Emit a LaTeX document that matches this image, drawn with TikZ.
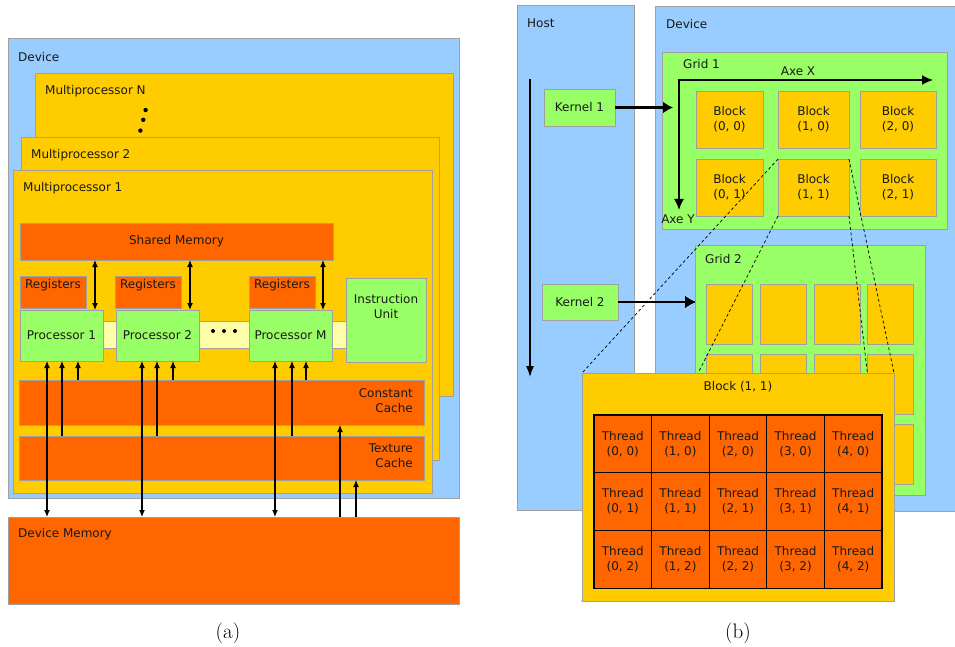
\documentclass[tikz,border=0pt]{standalone}
\usepackage{fontspec}
\usetikzlibrary{arrows.meta,calc}
\newfontfamily\dvs{DejaVu Sans}
\definecolor{cblue}{HTML}{99CCFF}
\definecolor{cyel}{HTML}{FFCC00}
\definecolor{corg}{HTML}{FF6600}
\definecolor{cgrn}{HTML}{99FF66}
\definecolor{cpale}{HTML}{FFFFAA}
\definecolor{cedge}{HTML}{A0A0A0}
% rectangle node from its top-left and bottom-right corners
\newcommand\rbox[7]{%
  \pgfmathsetmacro\rbw{#5-#3}%
  \pgfmathsetmacro\rbh{#6-#4}%
  \node[box,#1,anchor=north west,minimum width=\rbw bp,minimum height=\rbh bp] (#2) at (#3,#4) {#7};}
\begin{document}
\begin{tikzpicture}[x=1bp,y=-1bp,
  lbl/.style={font=\dvs\fontsize{12bp}{15bp}\selectfont, inner sep=0pt, text=black!90, align=center},
  box/.style={lbl, draw=cedge, line width=0.9bp, outer sep=0pt, rectangle},
  arr/.style={line width=1.1bp, -{Latex[length=7bp,width=6bp]}},
  darr/.style={line width=1.1bp, {Latex[length=7bp,width=6bp]}-{Latex[length=7bp,width=6bp]}},
  harr/.style={line width=1.3bp, -{Latex[length=11bp,width=8bp]}},
  karr/.style={line width=2.1bp, -{Latex[length=10bp,width=12bp]}},
  axarr/.style={line width=1.4bp, {Latex[length=11bp,width=10bp]}-{Latex[length=11bp,width=10bp]}},
  dline/.style={dash pattern=on 3bp off 2.5bp, line width=0.7bp},
  captxt/.style={font=\fontsize{21bp}{24bp}\selectfont, inner sep=0pt}]
\useasboundingbox (0,0) rectangle (955,647);

% ================= (a) hardware model =================
\rbox{fill=cblue}{devA}{8}{38}{459}{498}{}
\node[lbl,anchor=west] (devAl) at (18,57) {Device};
\rbox{fill=cyel}{mpN}{35}{73}{453}{396}{}
\node[lbl,anchor=west] (mpNl) at (45,91) {Multiprocessor N};
\fill (145.6,110) circle[radius=2.2bp] (143.3,119.8) circle[radius=2.2bp] (140.4,130.6) circle[radius=2.2bp];
\rbox{fill=cyel}{mp2}{21}{137}{439}{460}{}
\node[lbl,anchor=west] (mp2l) at (31,155) {Multiprocessor 2};
\rbox{fill=cyel}{mp1}{13}{170}{432}{493}{}
\node[lbl,anchor=west] (mp1l) at (23,188) {Multiprocessor 1};

\rbox{fill=corg}{smem}{20}{223}{333}{260}{Shared Memory}
\rbox{fill=cpale}{band}{60}{321}{346}{348}{}
\rbox{fill=corg}{reg1}{20}{276}{86}{308}{}
\rbox{fill=corg}{reg2}{115}{276}{181}{308}{}
\rbox{fill=corg}{regm}{249}{276}{315}{308}{}
\foreach \r in {reg1,reg2,regm}
  \node[lbl] (\r l) at ($(\r.north)+(0,9)$) {Registers};
\rbox{fill=cgrn}{p1}{20}{310}{103}{361}{Processor 1}
\rbox{fill=cgrn}{p2}{116}{310}{199}{361}{Processor 2}
\rbox{fill=cgrn}{pm}{249}{310}{332}{361}{Processor M}
\fill (213,331) circle[radius=2bp] (224,331) circle[radius=2bp] (235,331) circle[radius=2bp];
\rbox{fill=cgrn}{iu}{346}{278}{426}{362}{}
\node[lbl] (iul) at ($(iu.north)+(0,29)$) {Instruction\\Unit};

\rbox{fill=corg}{con}{19}{380}{424}{425}{}
\node[lbl,anchor=east,align=right] (conl) at ($(con.east)+(-11,-2)$) {Constant\\Cache};
\rbox{fill=corg}{tex}{19}{436}{424}{480}{}
\node[lbl,anchor=east,align=right] (texl) at ($(tex.east)+(-11,-2)$) {Texture\\Cache};
\rbox{fill=corg}{dmem}{8}{517}{459}{604}{}
\node[lbl,anchor=west] (dmeml) at (18,534) {Device Memory};

% columns of the connectors
\foreach \n/\x in {a1/47,a2/62,a3/78,a4/95,b1/142,b2/157,b3/173,b4/190,
                   c1/275,c2/292,c3/306,c4/323,d1/340,d2/356}
  \coordinate (x\n) at (\x,0);
\foreach \p/\c in {p1/a,p2/b,pm/c}{
  \draw[darr] (smem.south -| x\c4) -- (\p.north -| x\c4);
  \draw[darr] (\p.south -| x\c1) -- (dmem.north -| x\c1);
  \draw[arr] (tex.north -| x\c2) -- (\p.south -| x\c2);
  \draw[arr] (con.north -| x\c3) -- (\p.south -| x\c3);
}
\draw[arr] (dmem.north -| xd1) -- (con.south -| xd1);
\draw[arr] (dmem.north -| xd2) -- (tex.south -| xd2);

\node[captxt] (capa) at (228,633) {(a)};

% ================= (b) programming model =================
\rbox{fill=cblue}{host}{517}{5}{634}{510}{}
\node[lbl,anchor=west] (hostl) at (527,23) {Host};
\rbox{fill=cblue}{devB}{655}{6}{958}{511}{}
\node[lbl,anchor=west] (devBl) at (666,24) {Device};

\coordinate (hs) at (530,79);
\coordinate (he) at (530,377);
\draw[harr] (hs) -- (he);

% grid 1
\rbox{fill=cgrn}{g1}{662}{52}{947}{229}{}
\node[lbl,anchor=west] (g1l) at (683,64) {Grid 1};
\rbox{fill=cyel}{b00}{696}{91}{763}{148}{Block\\(0, 0)}
\rbox{fill=cyel}{b10}{778}{91}{849}{148}{Block\\(1, 0)}
\rbox{fill=cyel}{b20}{860}{91}{936}{148}{Block\\(2, 0)}
\rbox{fill=cyel}{b01}{696}{159}{763}{216}{Block\\(0, 1)}
\rbox{fill=cyel}{b11}{778}{159}{849}{216}{Block\\(1, 1)}
\rbox{fill=cyel}{b21}{860}{159}{936}{216}{Block\\(2, 1)}
\coordinate (axo) at (679,80);
\coordinate (axx) at (933,80);
\coordinate (axy) at (679,210);
\draw[axarr] (axx) -- (axo) -- (axy);
\node[lbl] (axxl) at (798,71) {Axe X};
\node[lbl] (axyl) at (678,219) {Axe Y};

\rbox{fill=cgrn}{k1}{544}{89}{615}{126}{Kernel 1}
\draw[karr] (k1.east) -- ($(k1.east)+(58,0)$);

% grid 2
\rbox{fill=cgrn}{g2}{695}{245}{925}{495}{}
\node[lbl,anchor=west] (g2l) at (705,259) {Grid 2};
\foreach \i/\x in {0/706,1/760,2/814,3/867}
  \foreach \j/\y in {0/284,1/354,2/424}
    \rbox{fill=cyel}{gb\i\j}{\x}{\y}{\x+46}{\y+60}{}
\rbox{fill=cgrn}{k2}{542}{284}{618}{320}{Kernel 2}
\draw[karr] (k2.east) -- (k2.east -| g2.west);

% zoom of block (1, 1)
\rbox{fill=none,draw=none}{bigref}{582}{373}{894}{601}{}
\draw[dline] (b11.north west) -- (bigref.north west);
\draw[dline] (b11.south west) -- (bigref.south west);
\draw[dline] (b11.north east) -- (bigref.north east);
\draw[dline] (b11.south east) -- (bigref.south east);
\rbox{fill=cyel}{big}{582}{373}{894}{601}{}
\node[lbl] (bigl) at (738,387) {Block (1, 1)};
\foreach \i in {0,...,4}
  \foreach \j in {0,...,2}
    \node[box, draw=black, line width=1.1bp, fill=corg, anchor=north west,
          minimum width=57.6bp, minimum height=57.7bp]
      (t\i\j) at ({594+57.6*\i},{415+57.7*\j}) {Thread\\(\i, \j)};

\node[captxt] (capb) at (738,633) {(b)};
\end{tikzpicture}
\end{document}
